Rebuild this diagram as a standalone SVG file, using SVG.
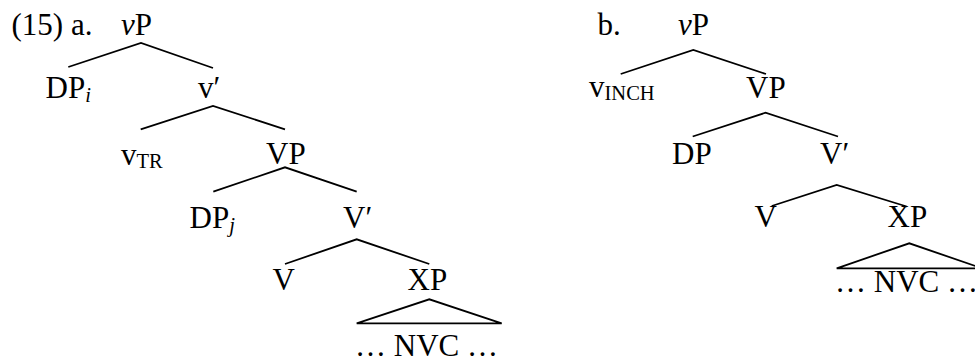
<svg xmlns="http://www.w3.org/2000/svg" width="975" height="359" viewBox="0 0 975 359">
<style>
text{font-family:"Liberation Serif","Times New Roman",serif;font-size:31px;fill:#000}
.it{font-style:italic}
.sub{font-size:20.5px}
.e{fill:none;stroke:#000;stroke-width:1.8;stroke-linejoin:miter}
</style>
<rect width="975" height="359" fill="#fff"/>
<g id="labels">
<text x="11.5" y="34.5">(15) a.</text>
<text x="597.5" y="35">b.</text>
</g>
<g id="connectors">
<polyline class="e" points="68.3,67 141,43 213,68"/>
<polyline class="e" points="140.7,129.3 213,106 285,129.3"/>
<polyline class="e" points="213.3,191.7 285,167.3 356.7,191.7"/>
<polyline class="e" points="285,264 356.7,239.3 429.3,264"/>
<polygon class="e" points="356.7,323.3 429.3,299.3 501.7,323.3"/>
<polyline class="e" points="620.7,74 693.3,50 766,74"/>
<polyline class="e" points="692.7,136.5 765.5,112.7 838,136.5"/>
<polyline class="e" points="771.7,206 836.7,185 906.7,206.5"/>
<polygon class="e" points="836.7,268.3 909.3,243.3 982,268.3"/>
</g>
<g id="a-vP"><text x="121" y="34.5"><tspan class="it">v</tspan>P</text></g>
<g id="a-DPi"><text x="45.5" y="97.5">DP<tspan class="sub it" dy="4">i</tspan></text></g>
<g id="a-vbar"><text x="198" y="97.5">v′</text></g>
<g id="a-vTR"><text x="121" y="164.5">v<tspan class="sub" dy="3">TR</tspan></text></g>
<g id="a-VP"><text x="266" y="163.5">VP</text></g>
<g id="a-DPj"><text x="189.5" y="228">DP<tspan class="sub it" dy="4">j</tspan></text></g>
<g id="a-Vbar"><text x="343" y="228">V′</text></g>
<g id="a-V"><text x="272.5" y="290">V</text></g>
<g id="a-XP"><text x="407.5" y="290">XP</text></g>
<g id="a-NVC"><text x="355" y="356">… NVC …</text></g>
<g id="b-vP"><text x="678" y="35"><tspan class="it">v</tspan>P</text></g>
<g id="b-vINCH"><text x="589" y="97">v<tspan class="sub" dy="3">INCH</tspan></text></g>
<g id="b-VP"><text x="746" y="98">VP</text></g>
<g id="b-DP"><text x="672" y="164">DP</text></g>
<g id="b-Vbar"><text x="820" y="164">V′</text></g>
<g id="b-V"><text x="754.5" y="226.7">V</text></g>
<g id="b-XP"><text x="887.5" y="226.7">XP</text></g>
<g id="b-NVC"><text x="835" y="291.5">… NVC …</text></g>
</svg>
